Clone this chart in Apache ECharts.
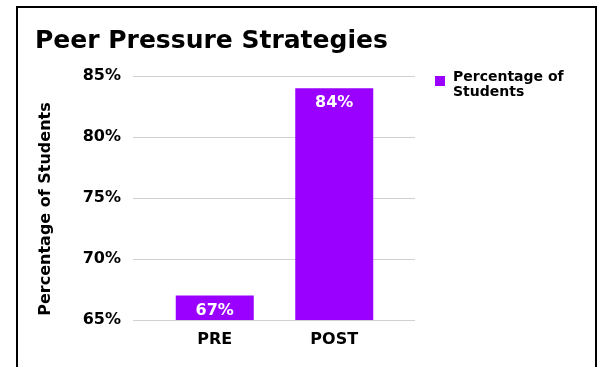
<!DOCTYPE html>
<html>
<head>
<meta charset="utf-8">
<script src="https://cdn.jsdelivr.net/npm/echarts@6/dist/echarts.min.js"></script>
<style>
  html, body { margin: 0; padding: 0; background: #fff; }
  #chart { width: 600px; height: 367px; }
</style>
</head>
<body>
<div id="chart"></div>
<script>
// Chart data
const categories = ['PRE', 'POST'];
const seriesName = 'Percentage of Students';
const values = [67, 84];
const yTicks = [65, 70, 75, 80, 85];

const FONT = "'Comic Sans MS', 'DejaVu Sans', sans-serif";
const PURPLE = '#9900ff';
const yMin = yTicks[0], yMax = yTicks[yTicks.length - 1];

const chart = echarts.init(document.getElementById('chart'), null, { renderer: 'canvas' });

chart.setOption({
  backgroundColor: '#fff',
  animation: false,
  title: {
    text: 'Peer Pressure Strategies',
    left: 30, top: 24,
    textStyle: { fontFamily: FONT, fontSize: 25, fontWeight: 'bold', color: '#000' }
  },
  legend: {
    data: [seriesName],
    left: 430, top: 54,
    orient: 'vertical',
    icon: 'rect', itemWidth: 10, itemHeight: 10, itemGap: 6,
    // a blank leading line keeps the swatch level with the first line of the label
    formatter: () => '{gap|}\n{t|Percentage of}\n{t|Students}',
    textStyle: {
      fontFamily: FONT, fontSize: 14, fontWeight: 'bold', color: '#000',
      padding: [0, 0, 0, 3],
      rich: {
        gap: { lineHeight: 8, fontSize: 14 },
        t: { fontFamily: FONT, fontSize: 14, fontWeight: 'bold', color: '#000', lineHeight: 15 }
      }
    }
  },
  graphic: [{
    type: 'rect',
    shape: { x: 17, y: 7, width: 579, height: 400 },
    style: { fill: 'none', stroke: '#000', lineWidth: 2 },
    silent: true
  }],
  grid: [
    // background grid carrying the value labels and gridlines
    { left: 133, right: 185, top: 76, bottom: 47 },
    // grid holding the bars
    { left: 155, right: 206, top: 76, bottom: 47 }
  ],
  xAxis: [
    { type: 'category', gridIndex: 0, data: categories, show: false },
    {
      type: 'category', gridIndex: 1, data: categories,
      axisLine: { show: false }, axisTick: { show: false },
      axisLabel: { fontFamily: FONT, fontSize: 16, fontWeight: 'bold', color: '#000', margin: 12 }
    }
  ],
  yAxis: [
    {
      type: 'value', gridIndex: 0, min: yMin, max: yMax, interval: 5,
      name: 'Percentage of Students', nameLocation: 'middle', nameGap: 79,
      nameTextStyle: { fontFamily: FONT, fontSize: 16, fontWeight: 'bold', color: '#000', padding: [0, 22, 0, 0] },
      axisLine: { show: false }, axisTick: { show: false },
      axisLabel: { fontFamily: FONT, fontSize: 16, fontWeight: 'bold', color: '#000', margin: 12, formatter: '{value}%' },
      splitLine: { lineStyle: { color: '#d0d0d0', width: 1 } }
    },
    {
      type: 'value', gridIndex: 1, min: yMin, max: yMax, interval: 5,
      show: false, splitLine: { show: false }
    }
  ],
  series: [{
    name: seriesName,
    type: 'bar',
    xAxisIndex: 1, yAxisIndex: 1,
    data: values,
    barWidth: 78,
    itemStyle: { color: PURPLE },
    label: {
      show: true, position: 'insideTop', distance: 7,
      formatter: '{c}%',
      fontFamily: FONT, fontSize: 16, fontWeight: 'bold', color: '#fff'
    }
  }]
});
</script>
</body>
</html>
